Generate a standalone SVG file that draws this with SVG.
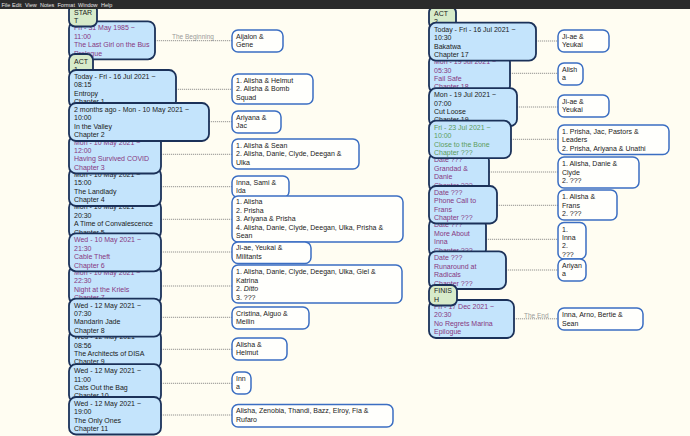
<svg xmlns="http://www.w3.org/2000/svg" width="690" height="436" viewBox="0 0 690 436">
<style>
text{font-family:"Liberation Sans",Arial,sans-serif;font-size:7px;fill:#1a1a1a}
.n rect{fill:#c4e4fc;stroke:#1b3159;stroke-width:1.8}
.g rect{fill:#d7ebca;stroke:#1b3159;stroke-width:1.8}
.a rect{fill:#fffffc;stroke:#3b6ec2;stroke-width:1.5}
.p text,text.p{fill:#873781}
.gt text{fill:#5c9c5c}
.c line{stroke:#7a7a7a;stroke-width:0.8;stroke-dasharray:1.2 0.8}
.lbl{fill:#9a9a9a;font-size:6.5px}
.menu{fill:#e6e6e6;font-size:5.5px}
</style>
<rect x="0" y="0" width="690" height="436" fill="#fffdf2"/>
<g id="connectors" class="c">
<line x1="155" y1="40.7" x2="232" y2="40.7"/>
<line x1="176" y1="89.3" x2="232" y2="89.3"/>
<line x1="209" y1="121.7" x2="232" y2="121.7"/>
<line x1="161" y1="154.3" x2="232" y2="154.3"/>
<line x1="161" y1="186.7" x2="232" y2="186.7"/>
<line x1="161" y1="219.3" x2="232" y2="219.3"/>
<line x1="161" y1="252" x2="232" y2="252"/>
<line x1="161" y1="286" x2="232" y2="286"/>
<line x1="161" y1="317.3" x2="232" y2="317.3"/>
<line x1="161" y1="349.3" x2="232" y2="349.3"/>
<line x1="161" y1="383.3" x2="232" y2="383.3"/>
<line x1="161" y1="415" x2="232" y2="415"/>
<line x1="536" y1="41" x2="558" y2="41"/>
<line x1="510" y1="73.3" x2="558" y2="73.3"/>
<line x1="517" y1="107" x2="558" y2="107"/>
<line x1="511" y1="139.3" x2="558" y2="139.3"/>
<line x1="489" y1="172" x2="558" y2="172"/>
<line x1="497" y1="205.3" x2="558" y2="205.3"/>
<line x1="486" y1="239.3" x2="558" y2="239.3"/>
<line x1="506" y1="270" x2="558" y2="270"/>
<line x1="514" y1="318.8" x2="558" y2="318.8"/>
<text class="lbl" x="172" y="39">The Beginning</text>
<text class="lbl" x="524" y="317.8">The End</text>
</g>
<!-- left column -->
<g id="prologue" class="n p"><rect x="69" y="21.3" width="86" height="38" rx="7"/><text x="74" y="30.3">Fri - 31 May 1985 ~</text><text x="74" y="38.7">11:00</text><text x="74" y="47.1">The Last Girl on the Bus</text><text x="74" y="55.5">Prologue</text></g>
<g id="start" class="g"><rect x="69" y="4" width="28" height="22.5" rx="6"/><text x="74" y="14.5">STAR</text><text x="74" y="22.9">T</text></g>
<g id="act1" class="g"><rect x="69" y="54" width="24" height="22" rx="6"/><text x="74" y="63.5">ACT</text><text x="74" y="71.9">1</text></g>
<g id="ch1" class="n"><rect x="69" y="70" width="107" height="38" rx="7"/><text x="74" y="79">Today - Fri - 16 Jul 2021 ~</text><text x="74" y="87.4">08:15</text><text x="74" y="95.8">Entropy</text><text x="74" y="104.2">Chapter 1</text></g>
<g id="ch5" class="n"><rect x="69" y="200.4" width="92" height="38" rx="7"/><text x="74" y="209.4">Mon - 10 May 2021 ~</text><text x="74" y="217.8">20:30</text><text x="74" y="226.2">A Time of Convalescence</text><text x="74" y="234.6">Chapter 5</text></g>
<g id="ch4" class="n"><rect x="69" y="168" width="92" height="38" rx="7"/><text x="74" y="177">Mon - 10 May 2021 ~</text><text x="74" y="185.4">15:00</text><text x="74" y="193.8">The Landlady</text><text x="74" y="202.2">Chapter 4</text></g>
<g id="ch3" class="n p"><rect x="69" y="135.5" width="92" height="38" rx="7"/><text x="74" y="144.5">Mon - 10 May 2021 ~</text><text x="74" y="152.9">12:00</text><text x="74" y="161.3">Having Survived COVID</text><text x="74" y="169.7">Chapter 3</text></g>
<g id="ch2" class="n"><rect x="69" y="103" width="140" height="38" rx="7"/><text x="74" y="112">2 months ago - Mon - 10 May 2021 ~</text><text x="74" y="120.4">10:00</text><text x="74" y="128.8">In the Valley</text><text x="74" y="137.2">Chapter 2</text></g>
<g id="ch7" class="n p"><rect x="69" y="265.8" width="92" height="38" rx="7"/><text x="74" y="274.8">Mon - 10 May 2021 ~</text><text x="74" y="283.2">22:30</text><text x="74" y="291.6">Night at the Kriels</text><text x="74" y="300">Chapter 7</text></g>
<g id="ch9" class="n"><rect x="69" y="330.2" width="92" height="38" rx="7"/><text x="74" y="339.2">Wed - 12 May 2021 ~</text><text x="74" y="347.6">08:56</text><text x="74" y="356">The Architects of DISA</text><text x="74" y="364.4">Chapter 9</text></g>
<g id="ch8" class="n"><rect x="69" y="298.6" width="92" height="38" rx="7"/><text x="74" y="307.6">Wed - 12 May 2021 ~</text><text x="74" y="316">07:30</text><text x="74" y="324.4">Mandarin Jade</text><text x="74" y="332.8">Chapter 8</text></g>
<g id="ch6" class="n p"><rect x="69" y="233.3" width="92" height="38" rx="7"/><text x="74" y="242.3">Wed - 10 May 2021 ~</text><text x="74" y="250.7">21:30</text><text x="74" y="259.1">Cable Theft</text><text x="74" y="267.5">Chapter 6</text></g>
<g id="ch10" class="n"><rect x="69" y="364.2" width="92" height="38" rx="7"/><text x="74" y="373.2">Wed - 12 May 2021 ~</text><text x="74" y="381.6">11:00</text><text x="74" y="390">Cats Out the Bag</text><text x="74" y="398.4">Chapter 10</text></g>
<g id="ch11" class="n"><rect x="69" y="397" width="92" height="37.5" rx="7"/><text x="74" y="406">Wed - 12 May 2021 ~</text><text x="74" y="414.4">19:00</text><text x="74" y="422.8">The Only Ones</text><text x="74" y="431.2">Chapter 11</text></g>
<!-- left annotations -->
<g id="n-aijalon" class="a"><rect x="232" y="30" width="51" height="22" rx="6"/><text x="236" y="39">Aijalon &amp;</text><text x="236" y="47.4">Gene</text></g>
<g id="n-helmut-bomb" class="a"><rect x="232" y="74" width="81" height="30" rx="6"/><text x="236" y="83">1. Alisha &amp; Helmut</text><text x="236" y="91.4">2. Alisha &amp; Bomb</text><text x="236" y="99.8">Squad</text></g>
<g id="n-ariyana-jac" class="a"><rect x="232" y="111" width="49" height="22" rx="6"/><text x="236" y="120">Ariyana &amp;</text><text x="236" y="128.4">Jac</text></g>
<g id="n-sean" class="a"><rect x="232" y="139" width="127" height="30" rx="6"/><text x="236" y="147.8">1. Alisha &amp; Sean</text><text x="236" y="156.3">2. Alisha, Danie, Clyde, Deegan &amp;</text><text x="236" y="164.8">Ulka</text></g>
<g id="n-inna-sami" class="a"><rect x="232" y="176" width="57" height="21.5" rx="6"/><text x="236" y="184.8">Inna, Sami &amp;</text><text x="236" y="193.3">Ida</text></g>
<g id="n-prisha-list" class="a"><rect x="232" y="196" width="171" height="46" rx="6"/><text x="236" y="204.3">1. Alisha</text><text x="236" y="212.8">2. Prisha</text><text x="236" y="221.3">3. Ariyana &amp; Prisha</text><text x="236" y="229.8">4. Alisha, Danie, Clyde, Deegan, Ulka, Prisha &amp;</text><text x="236" y="238.3">Sean</text></g>
<g id="n-militants" class="a"><rect x="232" y="242" width="79" height="21.5" rx="6"/><text x="236" y="250.3">Ji-ae, Yeukai &amp;</text><text x="236" y="258.7">Militants</text></g>
<g id="n-katrina" class="a"><rect x="232" y="265" width="170" height="38" rx="6"/><text x="236" y="274.3">1. Alisha, Danie, Clyde, Deegan, Ulka, Giel &amp;</text><text x="236" y="282.8">Katrina</text><text x="236" y="291.3">2. <tspan font-style="italic">Ditto</tspan></text><text x="236" y="299.8">3. ???</text></g>
<g id="n-cristina" class="a"><rect x="232" y="307" width="77" height="22" rx="6"/><text x="236" y="315.8">Cristina, Aiguo &amp;</text><text x="236" y="324.2">Meilin</text></g>
<g id="n-helmut" class="a"><rect x="232" y="338" width="55" height="22" rx="6"/><text x="236" y="347">Alisha &amp;</text><text x="236" y="355.4">Helmut</text></g>
<g id="n-inna" class="a"><rect x="232" y="372" width="19" height="22" rx="6"/><text x="236" y="380.8">Inn</text><text x="236" y="389.2">a</text></g>
<g id="n-zenobia" class="a"><rect x="232" y="404.5" width="161" height="22.5" rx="6"/><text x="236" y="413.4">Alisha, Zenobia, Thandi, Bazz, Elroy, Fia &amp;</text><text x="236" y="421.8">Rufaro</text></g>
<!-- right column -->
<g id="act2" class="g"><rect x="429" y="6.5" width="27" height="22" rx="6"/><text x="434" y="15.5">ACT</text><text x="434" y="23.9">2</text></g>
<g id="ch18" class="n p"><rect x="429" y="55.1" width="81" height="38" rx="7"/><text x="434" y="64.1">Mon - 19 Jul 2021 ~</text><text x="434" y="72.5">05:30</text><text x="434" y="80.9">Fail Safe</text><text x="434" y="89.3">Chapter 18</text></g>
<g id="ch17" class="n"><rect x="429" y="22.7" width="107" height="38" rx="7"/><text x="434" y="31.7">Today - Fri - 16 Jul 2021 ~</text><text x="434" y="40.1">10:30</text><text x="434" y="48.5">Bakatwa</text><text x="434" y="56.9">Chapter 17</text></g>
<g id="ch19" class="n"><rect x="429" y="88.2" width="88" height="38" rx="7"/><text x="434" y="97.2">Mon - 19 Jul 2021 ~</text><text x="434" y="105.6">07:00</text><text x="434" y="114">Cut Loose</text><text x="434" y="122.4">Chapter 19</text></g>
<g id="grandad" class="n p"><rect x="429" y="153.4" width="60" height="38" rx="7"/><text x="434" y="162.4">Date ???</text><text x="434" y="170.8">Grandad &amp;</text><text x="434" y="179.2">Danie</text><text x="434" y="187.6">Chapter ???</text></g>
<g id="bone" class="n gt"><rect x="429" y="120.7" width="82" height="37.5" rx="7"/><text x="434" y="129.7">Fri - 23 Jul 2021 ~</text><text x="434" y="138.1">10:00</text><text x="434" y="146.5">Close to the Bone</text><text x="434" y="154.9">Chapter ???</text></g>
<g id="more-inna" class="n p"><rect x="429" y="218.4" width="57" height="38" rx="7"/><text x="434" y="227.4">Date ???</text><text x="434" y="235.8">More About</text><text x="434" y="244.2">Inna</text><text x="434" y="252.6">Chapter ???</text></g>
<g id="phone" class="n p"><rect x="429" y="186" width="68" height="37.5" rx="7"/><text x="434" y="195">Date ???</text><text x="434" y="203.4">Phone Call to</text><text x="434" y="211.8">Frans</text><text x="434" y="220.2">Chapter ???</text></g>
<g id="runaround" class="n p"><rect x="429" y="251.4" width="77" height="37.6" rx="7"/><text x="434" y="260.4">Date ???</text><text x="434" y="268.8">Runaround at</text><text x="434" y="277.2">Radicals</text><text x="434" y="285.6">Chapter ???</text></g>
<g id="epilogue" class="n p"><rect x="429" y="300" width="85" height="38" rx="7"/><text x="434" y="309">Fri - 17 Dec 2021 ~</text><text x="434" y="317.4">20:30</text><text x="434" y="325.8">No Regrets Marina</text><text x="434" y="334.2">Epilogue</text></g>
<g id="finish" class="g"><rect x="429" y="285" width="28" height="20.5" rx="6"/><text x="434" y="293.3">FINIS</text><text x="434" y="301.7">H</text></g>
<!-- right annotations -->
<g id="n-jiae1" class="a"><rect x="558" y="30" width="51" height="22" rx="6"/><text x="562" y="39">Ji-ae &amp;</text><text x="562" y="47.4">Yeukai</text></g>
<g id="n-alisha-a" class="a"><rect x="558" y="63" width="25" height="22" rx="6"/><text x="562" y="72">Alish</text><text x="562" y="80.4">a</text></g>
<g id="n-jiae2" class="a"><rect x="558" y="95" width="51" height="22" rx="6"/><text x="562" y="104">Ji-ae &amp;</text><text x="562" y="112.4">Yeukai</text></g>
<g id="n-pastors" class="a"><rect x="558" y="125" width="111" height="29.5" rx="6"/><text x="562" y="134">1. Prisha, Jac, Pastors &amp;</text><text x="562" y="142.4">Leaders</text><text x="562" y="150.8">2. Prisha, Ariyana &amp; Unathi</text></g>
<g id="n-danie-clyde" class="a"><rect x="558" y="157" width="81" height="31" rx="6"/><text x="562" y="166.3">1. Alisha, Danie &amp;</text><text x="562" y="174.8">Clyde</text><text x="562" y="183.3">2. ???</text></g>
<g id="n-frans" class="a"><rect x="558" y="190" width="59" height="30" rx="6"/><text x="562" y="199.3">1. Alisha &amp;</text><text x="562" y="207.8">Frans</text><text x="562" y="216.3">2. ???</text></g>
<g id="n-inna-list" class="a"><rect x="558" y="222.5" width="28" height="36.5" rx="6"/><text x="562" y="231.5">1.</text><text x="562" y="239.8">Inna</text><text x="562" y="248.2">2.</text><text x="562" y="256.6">???</text></g>
<g id="n-ariyana" class="a"><rect x="558" y="259" width="28" height="22" rx="6"/><text x="562" y="268">Ariyan</text><text x="562" y="276.4">a</text></g>
<g id="n-arno" class="a"><rect x="558" y="308" width="85" height="22" rx="6"/><text x="562" y="317.2">Inna, Arno, Bertie &amp;</text><text x="562" y="325.6">Sean</text></g>
<!-- menu bar -->
<rect x="0" y="0" width="690" height="9" fill="#2b2b2b"/>
<text class="menu" x="1.5" y="7">File</text><text class="menu" x="12" y="7">Edit</text><text class="menu" x="25" y="7">View</text><text class="menu" x="40" y="7">Notes</text><text class="menu" x="57.5" y="7">Format</text><text class="menu" x="78" y="7">Window</text><text class="menu" x="101" y="7">Help</text>
</svg>
